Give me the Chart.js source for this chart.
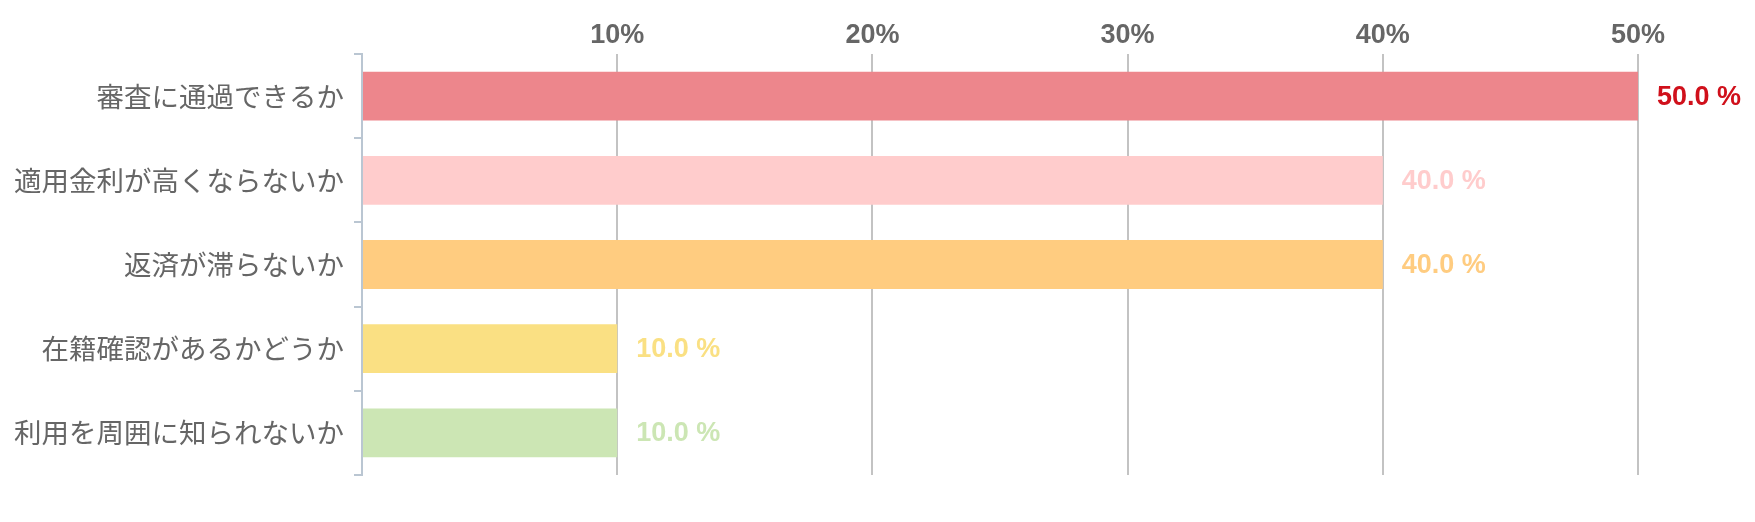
<!DOCTYPE html>
<html lang="ja">
<head>
<meta charset="utf-8">
<title>chart</title>
<script src="https://cdn.jsdelivr.net/npm/chart.js@4/dist/chart.umd.min.js"></script>
<style>
  html, body { margin: 0; padding: 0; background: #fff; }
  .wrap { width: 1755px; height: 522px; position: relative; }
</style>
</head>
<body>
<div class="wrap"><canvas id="bar-chart"></canvas></div>
<script>
const categories = [
    "審査に通過できるか",
    "適用金利が高くならないか",
    "返済が滞らないか",
    "在籍確認があるかどうか",
    "利用を周囲に知られないか"
];
const percentValues = [50, 40, 40, 10, 10];
const barColors = ["#ed868c", "#ffcccc", "#ffcc80", "#fae083", "#cce6b4"];
const valueLabelColors = ["#d0101b", "#ffcccc", "#ffcc80", "#fae083", "#cce6b4"];
const tickValues = [10, 20, 30, 40, 50];

// value text to the right of each bar
const valueLabels = {
    id: "valueLabels",
    afterDatasetsDraw(chart) {
        const ctx = chart.ctx;
        const meta = chart.getDatasetMeta(0);
        ctx.save();
        ctx.font = "bold 27px 'Liberation Sans', Arial, sans-serif";
        ctx.textBaseline = "middle";
        ctx.textAlign = "left";
        meta.data.forEach((bar, i) => {
            ctx.fillStyle = valueLabelColors[i];
            ctx.fillText(percentValues[i].toFixed(1) + " %", bar.x + 19, bar.y + 1);
        });
        ctx.restore();
    }
};

const ctx = document.getElementById("bar-chart");

new Chart(ctx, {
    type: "bar",
    data: {
        labels: categories,
        datasets: [{
            data: percentValues,
            backgroundColor: barColors,
            borderWidth: 0,
            categoryPercentage: 1,
            barPercentage: 0.58
        }]
    },
    options: {
        indexAxis: "y",
        responsive: true,
        maintainAspectRatio: false,
        animation: false,
        layout: {
            padding: { left: 10, right: 117, top: 0, bottom: 47 }
        },
        plugins: {
            legend: { display: false },
            tooltip: { enabled: false }
        },
        scales: {
            x: {
                position: "top",
                min: 0,
                max: 50,
                afterBuildTicks(scale) {
                    scale.ticks = [0].concat(tickValues).map(v => ({ value: v }));
                },
                afterFit(scale) { scale.height = 54; },
                border: { display: false },
                grid: {
                    drawTicks: false,
                    lineWidth: 2,
                    color: (c) => c.tick && c.tick.value === 0 ? "rgba(0,0,0,0)" : "#c3c3c3"
                },
                ticks: {
                    padding: 2,
                    color: "#666",
                    font: { family: "'Liberation Sans', Arial, sans-serif", size: 27, weight: "bold" },
                    callback: (v) => v === 0 ? "" : v + "%"
                }
            },
            y: {
                afterFit(scale) { scale.width = 352; },
                border: { display: true, color: "#bac6d2", width: 2 },
                grid: {
                    drawOnChartArea: false,
                    drawTicks: true,
                    tickLength: 8,
                    lineWidth: 2,
                    color: "#bac6d2"
                },
                ticks: {
                    padding: 10,
                    color: "#666",
                    font: { family: "'Noto Sans CJK JP', sans-serif", size: 27.5 }
                }
            }
        }
    },
    plugins: [valueLabels]
});
</script>
</body>
</html>
